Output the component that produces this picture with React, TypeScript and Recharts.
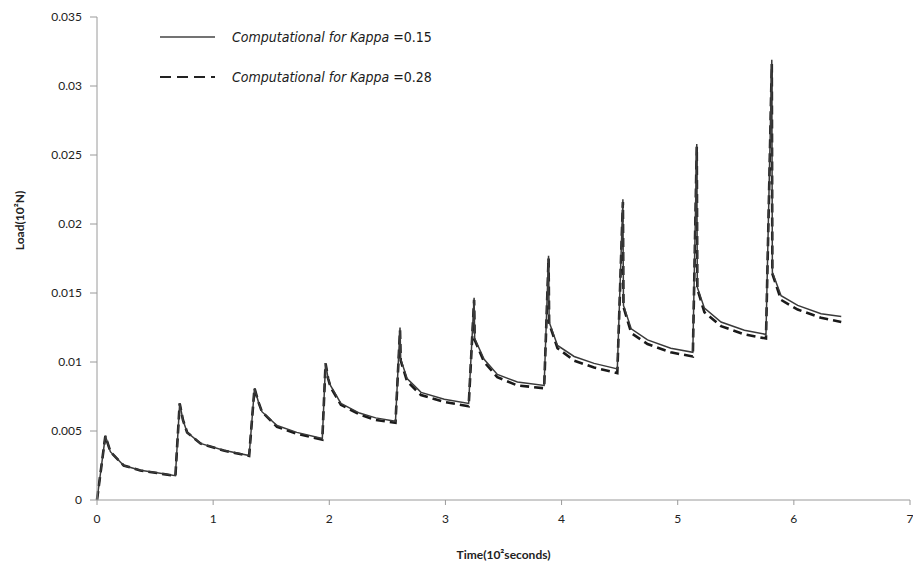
import { LineChart, Line, XAxis, YAxis, Label } from 'recharts';

// time in 10^2 s
const time = [
  0, 0.072, 0.115, 0.23, 0.373, 0.517, 0.675,
  0.712, 0.74, 0.776, 0.89, 1.09, 1.31,
  1.356, 1.39, 1.42, 1.55, 1.72, 1.94,
  1.968, 1.99, 2.01, 2.1, 2.26, 2.4, 2.57,
  2.609, 2.615, 2.67, 2.79, 2.99, 3.2,
  3.247, 3.252, 3.333, 3.447, 3.62, 3.85,
  3.888, 3.893, 3.965, 4.108, 4.28, 4.48,
  4.528, 4.533, 4.6, 4.74, 4.94, 5.13,
  5.164, 5.169, 5.23, 5.373, 5.574, 5.76,
  5.81, 5.815, 5.89, 6.033, 6.234, 6.408,
];

// load in 10^2 N, kappa = 0.15
const kappa015 = [
  0, 0.00465, 0.0035, 0.0025, 0.00215, 0.00197, 0.00176,
  0.007, 0.0058, 0.0049, 0.0041, 0.0036, 0.00322,
  0.0081, 0.0071, 0.0064, 0.0054, 0.0049, 0.00445,
  0.0099, 0.0088, 0.0083, 0.007, 0.0063, 0.00595, 0.0057,
  0.0125, 0.0102, 0.0088, 0.0078, 0.0073, 0.007,
  0.01465, 0.0117, 0.0102, 0.0091, 0.00855, 0.0083,
  0.0177, 0.0129, 0.0112, 0.0104, 0.0099, 0.0095,
  0.0218, 0.0141, 0.0124, 0.0116, 0.011, 0.0107,
  0.0258, 0.0154, 0.0139, 0.0129, 0.0123, 0.012,
  0.0319, 0.0165, 0.0148, 0.0141, 0.0135, 0.0133,
];

// load in 10^2 N, kappa = 0.28
const kappa028 = [
  0, 0.00465, 0.0035, 0.0025, 0.00214, 0.00195, 0.00174,
  0.007, 0.0058, 0.0049, 0.0041, 0.00358, 0.0032,
  0.0081, 0.0071, 0.0064, 0.0053, 0.0048, 0.00438,
  0.0099, 0.0088, 0.0082, 0.0069, 0.0062, 0.0058, 0.0056,
  0.0123, 0.0101, 0.0086, 0.0076, 0.0071, 0.0068,
  0.0145, 0.0116, 0.01, 0.0089, 0.0083, 0.0081,
  0.0175, 0.0128, 0.011, 0.0101, 0.0096, 0.0092,
  0.0216, 0.014, 0.0121, 0.0113, 0.0107, 0.0104,
  0.0256, 0.0153, 0.0136, 0.0126, 0.012, 0.0117,
  0.0316, 0.0164, 0.0145, 0.0138, 0.0132, 0.0129,
];

const xTicks = [0, 1, 2, 3, 4, 5, 6, 7];
const yTicks = [0, 0.005, 0.01, 0.015, 0.02, 0.025, 0.03, 0.035];
const yTickLabels = ['0', '0.005', '0.01', '0.015', '0.02', '0.025', '0.03', '0.035'];
const legendLabels = ['0.15', '0.28'];

const data = time.map((t, i) => ({ t, k1: kappa015[i], k2: kappa028[i] }));

const axisColor = '#9a9a9a';
const tickFont = { fontFamily: 'Lato, sans-serif', fontSize: 12, fill: '#222' };
const titleFont = { fontFamily: 'Lato, sans-serif', fontSize: 12, fontWeight: 700, fill: '#222' };

function LegendBox() {
  const styles = [
    { dash: undefined, color: '#444', w: 1.6 },
    { dash: '11 6', color: '#222', w: 2.2 },
  ];
  return (
    <svg width={330} height={70} style={{ position: 'absolute', left: 144, top: 17 }}>
      {legendLabels.map((label, i) => (
        <g key={label} transform={`translate(0, ${i * 40})`}>
          <line x1={8} x2={63} y1={12} y2={12} stroke={styles[i].color} strokeWidth={styles[i].w} strokeDasharray={styles[i].dash} />
          <text x={80} y={17} fontFamily="'DejaVu Sans Condensed', 'DejaVu Sans', sans-serif" fontSize={14} fill="#1a1a1a">
            <tspan fontStyle="italic">Computational for Kappa </tspan>
            <tspan>={label}</tspan>
          </text>
        </g>
      ))}
    </svg>
  );
}

export default function App() {
  return (
    <div style={{ position: 'relative', width: 913, height: 562, background: '#fff' }}>
      <LineChart width={913} height={562} data={data} margin={{ top: 9, right: 11, bottom: 40, left: 29 }}>
        <XAxis
          dataKey="t"
          type="number"
          domain={[0, 7]}
          ticks={xTicks}
          stroke={axisColor}
          tick={tickFont}
          tickSize={5}
          tickMargin={9}
          height={30}
        >
          <Label value="Time(10²seconds)" position="bottom" offset={20} style={titleFont} />
        </XAxis>
        <YAxis
          type="number"
          domain={[0, 0.035]}
          ticks={yTicks}
          tickFormatter={(v: number) => yTickLabels[yTicks.indexOf(v)] ?? String(v)}
          stroke={axisColor}
          tick={tickFont}
          tickSize={7}
          tickMargin={8}
          width={60}
        >
          <Label
            value="Load(10²N)"
            angle={-90}
            position="insideLeft"
            offset={-10}
            dx={-7}
            dy={-38}
            style={{ ...titleFont, textAnchor: 'middle' }}
          />
        </YAxis>
        <Line
          dataKey="k2"
          type="linear"
          stroke="#1a1a1a"
          strokeWidth={2.6}
          strokeDasharray="9 5"
          dot={false}
          isAnimationActive={false}
        />
        <Line
          dataKey="k1"
          type="linear"
          stroke="#3a3a3a"
          strokeWidth={1.5}
          dot={false}
          isAnimationActive={false}
        />
      </LineChart>
      <LegendBox />
    </div>
  );
}
